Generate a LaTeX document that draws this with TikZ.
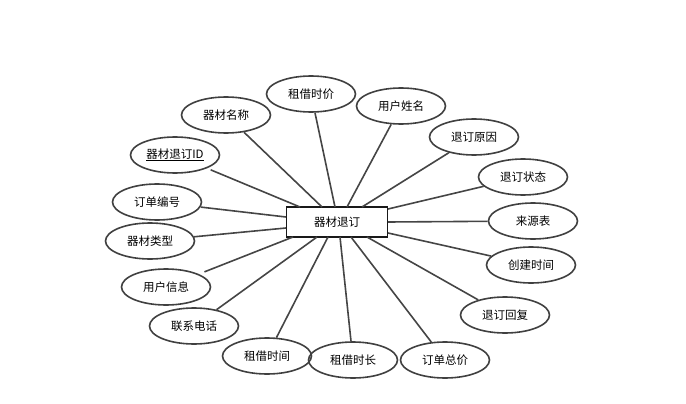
\documentclass[tikz,border=0pt]{standalone}
\usepackage{fontspec}
\newfontfamily\cjk{Noto Sans CJK SC}
\usetikzlibrary{shapes.geometric,calc}
\definecolor{edgegray}{HTML}{404040}
\definecolor{linegray}{HTML}{454545}
\tikzset{
  attr/.style={ellipse,draw=edgegray,line width=1.6pt,minimum width=89pt,minimum height=36pt,inner sep=0pt,font=\cjk\fontsize{11.5}{13}\selectfont,text=black},
  entity/.style={rectangle,draw=black!90,line width=1.9pt,minimum width=101pt,minimum height=30pt,inner sep=0pt,font=\cjk\fontsize{11.5}{13}\selectfont,text=black},
  link/.style={draw=linegray,line width=1.6pt}
}
\begin{document}
\begin{tikzpicture}[x=1pt,y=-1pt]
\useasboundingbox (0,0) rectangle (686,404);
\node[entity] (box) at (337,222) {器材退订};
\node[attr] (a1) at (311,94) {租借时价};
\node[attr] (a2) at (226,115) {器材名称};
\node[attr] (a3) at (175,155) {\underline{器材退订ID}};
\node[attr] (a4) at (401,106) {用户姓名};
\node[attr] (a5) at (474,137) {退订原因};
\node[attr] (a6) at (523,177) {退订状态};
\node[attr] (a7) at (533,221) {来源表};
\node[attr] (a8) at (531,265) {创建时间};
\node[attr] (a9) at (505,315) {退订回复};
\node[attr] (a10) at (445,360) {订单总价};
\node[attr] (a11) at (353,360) {租借时长};
\node[attr] (a12) at (267,356) {租借时间};
\node[attr] (a13) at (194,326) {联系电话};
\node[attr] (a14) at (166,287) {用户信息};
\node[attr] (a15) at (150,241) {器材类型};
\node[attr] (a16) at (157,202) {订单编号};
\coordinate (p1) at ($(box.center)+(-2,-15)$);
\coordinate (p2) at ($(box.center)+(-15,-15)$);
\coordinate (p3) at ($(box.center)+(-37,-15)$);
\coordinate (p4) at ($(box.center)+(10,-15)$);
\coordinate (p5) at ($(box.center)+(25,-15)$);
\coordinate (p6) at ($(box.center)+(51,-13)$);
\coordinate (p7) at ($(box.center)+(51,0)$);
\coordinate (p8) at ($(box.center)+(51,11)$);
\coordinate (p9) at ($(box.center)+(30,15)$);
\coordinate (p10) at ($(box.center)+(14,15)$);
\coordinate (p11) at ($(box.center)+(3,15)$);
\coordinate (p12) at ($(box.center)+(-9,15)$);
\coordinate (p13) at ($(box.center)+(-20,15)$);
\coordinate (p14) at ($(box.center)+(-44,15)$);
\coordinate (p15) at ($(box.center)+(-51,6)$);
\coordinate (p16) at ($(box.center)+(-51,-5)$);
\draw[link] (a1) -- (p1);
\draw[link] (a2) -- (p2);
\draw[link,shorten <=4pt] (a3) -- (p3);
\draw[link] (a4) -- (p4);
\draw[link] (a5) -- (p5);
\draw[link] (a6) -- (p6);
\draw[link] (a7) -- (p7);
\draw[link] (a8) -- (p8);
\draw[link] (a9) -- (p9);
\draw[link] (a10) -- (p10);
\draw[link] (a11) -- (p11);
\draw[link] (a12) -- (p12);
\draw[link] (a13) -- (p13);
\draw[link,shorten <=6pt] (a14) -- (p14);
\draw[link] (a15) -- (p15);
\draw[link] (a16) -- (p16);
\end{tikzpicture}
\end{document}
